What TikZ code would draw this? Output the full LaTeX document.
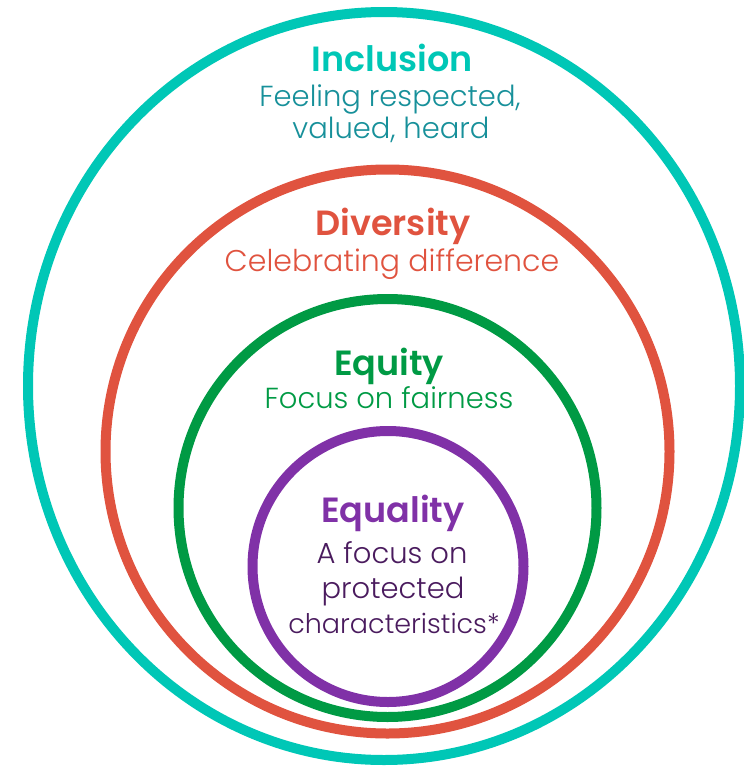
\documentclass[tikz,border=0pt]{standalone}
\usepackage{fontspec}
\setmainfont{Poppins}[BoldFont={Poppins SemiBold}]
\newfontfamily\thinfont{Poppins Light}
\usepackage{xcolor}
\usepackage{tikz}
\usetikzlibrary{positioning}

\definecolor{incl}{HTML}{00C7B6}
\definecolor{incltext}{HTML}{17909A}
\definecolor{divr}{HTML}{E0533F}
\definecolor{eqty}{HTML}{009A44}
\definecolor{eqly}{HTML}{8031A7}
\definecolor{eqlytext}{HTML}{4A1B5E}

\begin{document}
\begin{tikzpicture}[x=1pt, y=-1pt,
  ring/.style={line width=10pt},
  head/.style={anchor=base, inner sep=0pt, font=\fontsize{35}{35}\selectfont\bfseries},
  sub/.style={anchor=base, inner sep=0pt, font=\fontsize{29}{32}\selectfont\thinfont}]
\useasboundingbox (0,0) rectangle (744,766);

% rings, outermost first
\draw[ring, incl] (384,386) ellipse [x radius=356pt, y radius=374pt];
\draw[ring, divr] (387.5,451.5) circle [radius=282pt];
\draw[ring, eqty] (387.5,508) circle [radius=209pt];
\draw[ring, eqly] (388,566.5) circle [radius=135.5pt];

% labels
\node[head, incl] (incl_head) at (392,71) {Inclusion};
\node[sub, incltext] (incl_sub_1) at (390,106) {Feeling respected,};
\node[sub, incltext] (incl_sub_2) at (391,138) {valued, heard};

\node[head, divr] (divr_head) at (393,235) {Diversity};
\node[sub, divr, font=\fontsize{30}{32}\selectfont\thinfont] (divr_sub_1) at (392,271) {Celebrating difference};

\node[head, eqty] (eqty_head) at (389,375) {Equity};
\node[sub, eqty] (eqty_sub_1) at (389,408) {Focus on fairness};

\node[head, eqly] (eqly_head) at (393,522) {Equality};
\node[sub, eqlytext] (eqly_sub_1) at (392,563) {A focus on};
\node[sub, eqlytext] (eqly_sub_2) at (393,598) {protected};
\node[sub, eqlytext, font=\fontsize{27}{32}\selectfont\thinfont] (eqly_sub_3) at (394,633) {characteristics*};

\end{tikzpicture}
\end{document}
